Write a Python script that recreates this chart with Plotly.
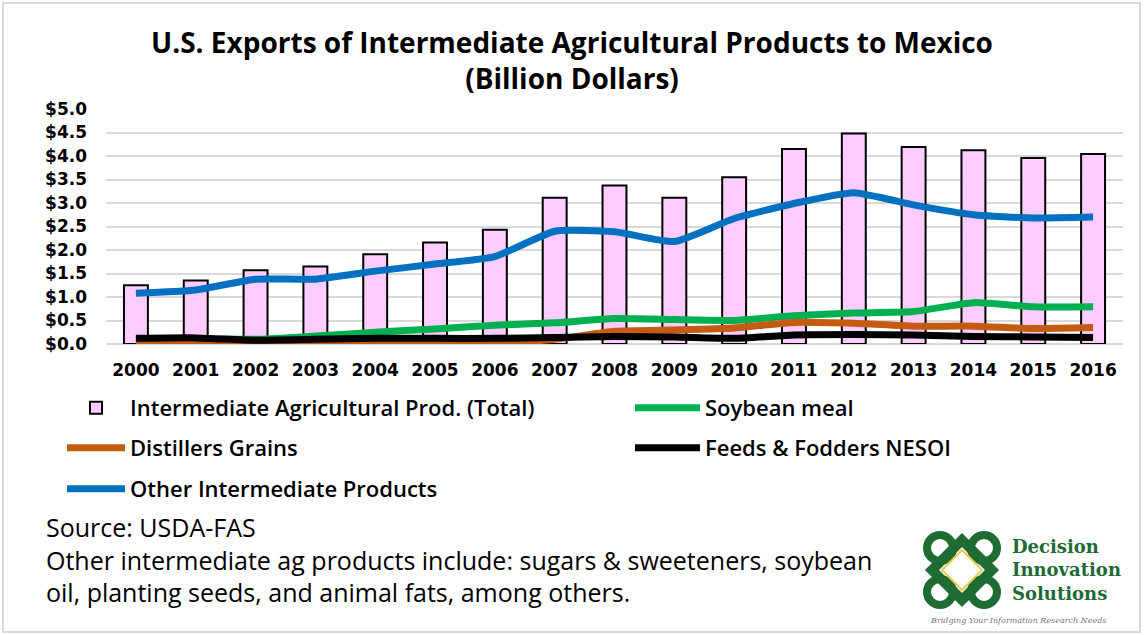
import plotly.graph_objects as go

# U.S. intermediate agricultural exports to Mexico, billion USD
years = ["2000", "2001", "2002", "2003", "2004", "2005", "2006", "2007", "2008",
         "2009", "2010", "2011", "2012", "2013", "2014", "2015", "2016"]
total = [1.25, 1.35, 1.57, 1.65, 1.91, 2.16, 2.43, 3.11, 3.37,
         3.11, 3.55, 4.15, 4.48, 4.19, 4.12, 3.96, 4.04]
soybean_meal = [0.10, 0.11, 0.10, 0.17, 0.25, 0.32, 0.40, 0.45, 0.54,
                0.52, 0.50, 0.60, 0.66, 0.69, 0.88, 0.79, 0.79]
distillers_grains = [0.02, 0.02, 0.02, 0.02, 0.02, 0.02, 0.03, 0.10, 0.27,
                     0.30, 0.34, 0.46, 0.44, 0.38, 0.38, 0.33, 0.35]
feeds_fodders = [0.12, 0.13, 0.08, 0.10, 0.12, 0.12, 0.12, 0.14, 0.16,
                 0.15, 0.12, 0.19, 0.20, 0.19, 0.16, 0.15, 0.14]
other_products = [1.08, 1.15, 1.38, 1.38, 1.55, 1.70, 1.86, 2.40, 2.39,
                  2.18, 2.67, 2.99, 3.22, 2.96, 2.75, 2.68, 2.70]
y_ticks = [0, 0.5, 1.0, 1.5, 2.0, 2.5, 3.0, 3.5, 4.0, 4.5, 5.0]
y_tick_text = ["$%.1f" % v for v in y_ticks]

FONT = "Open Sans"
TICK_FONT = dict(family="DejaVu Sans", size=17, color="#000000", weight="bold")
LEG_FONT = dict(family=FONT, size=22, color="#000000", weight=600)

fig = go.Figure()

fig.add_trace(go.Bar(
    x=years, y=total, name="Intermediate Agricultural Prod. (Total)",
    marker=dict(color="#FFCCFF", line=dict(color="#000000", width=2)),
    legend="legend",
))

line_series = [
    ("Soybean meal", soybean_meal, "#00B050", "legend2"),
    ("Distillers Grains", distillers_grains, "#C55A11", "legend3"),
    ("Feeds & Fodders NESOI", feeds_fodders, "#000000", "legend4"),
    ("Other Intermediate Products", other_products, "#0070C0", "legend5"),
]
for name, vals, color, leg in line_series:
    fig.add_trace(go.Scatter(
        x=years, y=vals, name=name, mode="lines",
        line=dict(color=color, width=7, shape="spline", smoothing=0.5),
        legend=leg,
    ))

plot_left, plot_right, plot_top, plot_bot = 106, 1123, 109, 344
pw, ph = plot_right - plot_left, plot_bot - plot_top


def px(xp):
    return (xp - plot_left) / pw


def py(yp):
    return (plot_bot - yp) / ph


# one single-entry legend per series, laid out in two columns
def leg(x, y, item_w):
    return dict(x=x, y=y, xanchor="left", yanchor="middle", font=LEG_FONT,
                bgcolor="rgba(0,0,0,0)", itemwidth=item_w, tracegroupgap=0)


col1, col2 = px(62), px(630)
row1, row2, row3 = py(408), py(448), py(489)

fig.update_layout(
    width=1144, height=635,
    margin=dict(l=plot_left, r=1144 - plot_right, t=plot_top, b=635 - plot_bot),
    paper_bgcolor="#FFFFFF", plot_bgcolor="#FFFFFF",
    bargap=0.6,
    showlegend=True,
    legend=leg(col1, row1, 58),
    legend2=leg(col2, row1, 65),
    legend3=leg(col1, row2, 58),
    legend4=leg(col2, row2, 65),
    legend5=leg(col1, row3, 58),
    title=dict(
        text="U.S. Exports of Intermediate Agricultural Products to Mexico<br>(Billion Dollars)",
        x=0.5, xref="container", xanchor="center", y=1 - 53 / 635, yanchor="middle",
        font=dict(family=FONT, size=28, color="#000000", weight="bold"),
    ),
    xaxis=dict(
        showgrid=False, showline=False, ticks="",
        tickfont=TICK_FONT,
        ticklabelstandoff=14,
    ),
    yaxis=dict(
        range=[0, 5], tickvals=y_ticks, ticktext=y_tick_text,
        showgrid=True, gridcolor="#D9D9D9", gridwidth=2, zeroline=True,
        zerolinecolor="#D9D9D9", zerolinewidth=2, showline=False, ticks="",
        tickfont=TICK_FONT,
        ticklabelstandoff=18,
    ),
)

note_font = dict(family=FONT, size=25, color="#000000")
fig.add_annotation(
    text="Source: USDA-FAS<br>Other intermediate ag products include: sugars &amp; sweeteners, soybean<br>oil, planting seeds, and animal fats, among others.",
    xref="paper", yref="paper", x=px(44), y=py(508), xanchor="left", yanchor="top",
    align="left", showarrow=False, font=note_font,
)

# logo: knot emblem and company name
green = "#1E6B34"
gold = "#F2C94C"
cx, cy = 962, 570
fig.add_shape(type="path", xref="paper", yref="paper",
              path=(f"M {px(cx-30)},{py(cy)} L {px(cx)},{py(cy-30)} L {px(cx+30)},{py(cy)} "
                    f"L {px(cx)},{py(cy+30)} Z"),
              line=dict(color=green, width=10))
for dx, dy in [(-22, -22), (22, -22), (-22, 22), (22, 22)]:
    fig.add_shape(type="circle", xref="paper", yref="paper",
                  x0=px(cx + dx - 13), x1=px(cx + dx + 13),
                  y0=py(cy + dy + 13), y1=py(cy + dy - 13),
                  line=dict(color=green, width=8))
fig.add_shape(type="path", xref="paper", yref="paper",
              path=(f"M {px(cx-20)},{py(cy)} L {px(cx)},{py(cy-20)} L {px(cx+20)},{py(cy)} "
                    f"L {px(cx)},{py(cy+20)} Z"),
              line=dict(color=gold, width=2))
fig.add_annotation(
    text="<b>Decision<br>Innovation<br>Solutions</b>",
    xref="paper", yref="paper", x=px(1010), y=py(534), xanchor="left", yanchor="top",
    align="left", showarrow=False,
    font=dict(family="DejaVu Serif", size=18, color=green),
)
fig.add_annotation(
    text="<i>Bridging Your Information Research Needs</i>",
    xref="paper", yref="paper", x=px(1018), y=py(620), xanchor="center", yanchor="middle",
    showarrow=False, font=dict(family="DejaVu Serif", size=8, color="#777777"),
)

# outer frame
fig.add_shape(type="rect", xref="paper", yref="paper",
              x0=px(3), x1=px(1140), y0=py(632), y1=py(3),
              line=dict(color="#D9D9D9", width=2))

fig.write_html("out.html")
